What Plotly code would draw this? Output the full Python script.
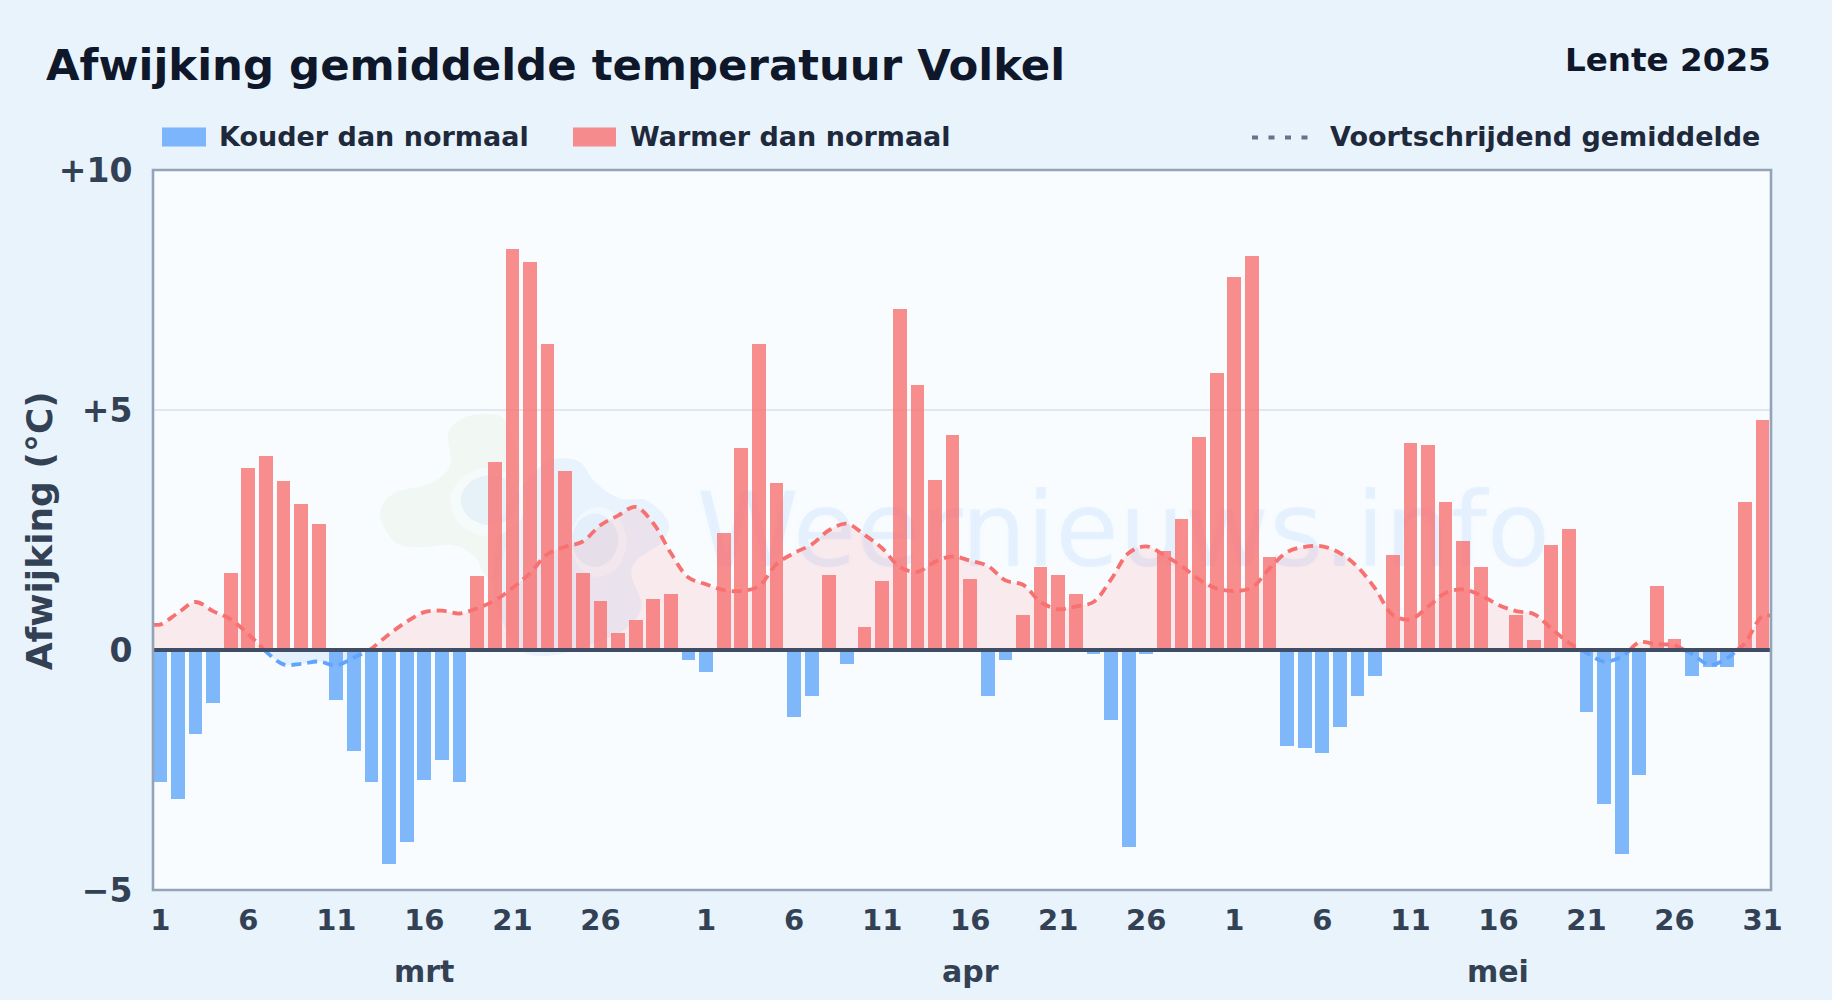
import plotly.graph_objects as go

# ---- data ----
march_dev = [-2.75,-3.1,-1.75,-1.1,1.6,3.8,4.05,3.52,3.05,2.62,-1.05,-2.1,-2.75,-4.45,-4.0,-2.7,-2.3,-2.75,1.55,3.92,8.35,8.08,6.38,3.72,1.6,1.02,0.35,0.62,1.07,1.17,-0.2]
april_dev = [-0.45,2.43,4.2,6.38,3.47,-1.4,-0.95,1.57,-0.3,0.47,1.43,7.1,5.53,3.54,4.48,1.47,-0.95,-0.2,0.72,1.72,1.57,1.17,-0.08,-1.45,-4.1,-0.08,2.07,2.73,4.43,5.78]
may_dev = [7.78,8.2,1.93,-2.0,-2.05,-2.15,-1.6,-0.95,-0.55,1.97,4.32,4.28,3.08,2.28,1.72,0.0,0.72,0.2,2.18,2.52,-1.3,-3.2,-4.25,-2.6,1.33,0.22,-0.55,-0.35,-0.35,3.08,4.8]
march_avg = [0.53,0.77,1.0,0.81,0.64,0.33,-0.03,-0.3,-0.29,-0.24,-0.32,-0.16,0.03,0.33,0.59,0.79,0.82,0.76,0.87,1.03,1.29,1.6,2.0,2.15,2.26,2.6,2.8,2.98,2.64,2.02,1.51]
april_avg = [1.37,1.25,1.23,1.33,1.79,2.02,2.2,2.5,2.63,2.4,2.12,1.73,1.63,1.84,1.95,1.86,1.75,1.45,1.36,1.0,0.85,0.91,1.0,1.47,2.02,2.16,1.98,1.75,1.47,1.28]
may_avg = [1.23,1.3,1.7,2.04,2.15,2.16,2.02,1.73,1.28,0.73,0.64,0.9,1.19,1.26,1.14,0.94,0.81,0.75,0.45,0.15,-0.06,-0.24,-0.14,0.16,0.12,0.1,-0.08,-0.31,-0.17,0.14,0.71]
months = ["mrt", "apr", "mei"]
y_tickvals = [10, 5, 0, -5]
y_ticktext = ["+10", "+5", "0", "\u22125"]

deviation = march_dev + april_dev + may_dev
average = march_avg + april_avg + may_avg
days = list(range(len(deviation)))
month_lens = [len(march_dev), len(april_dev), len(may_dev)]

tick_vals, tick_text, month_centres = [], [], []
start = 0
for n in month_lens:
    for d in range(1, n + 1, 5):
        if d == 31 and n == 31 and start == 0:
            continue
        tick_vals.append(start + d - 1)
        tick_text.append(str(d))
    month_centres.append(start + 15)
    start += n

W, H = 1832, 1000
L, R, T, B = 153.0, 1771.0, 169.5, 890.0
FONT = "DejaVu Sans"
C_DARK, C_TICK, C_LEG = "#0f172a", "#334155", "#1e293b"
RED, BLUE = "#f87171", "#60a5fa"
x_range = [-0.41, len(days) - 0.52]
y_range = [-5, 10]


def px(x):
    return x / W


def py(y):
    return 1 - y / H


def split(xs, vs):
    """Separate positive and negative stretches of the average, joined at zero."""
    px_, py_, nx_, ny_ = [], [], [], []
    for i, (x, v) in enumerate(zip(xs, vs)):
        if i:
            a = vs[i - 1]
            if a * v < 0:
                xc = xs[i - 1] + (0 - a) / (v - a)
                px_.append(xc); py_.append(0); nx_.append(xc); ny_.append(0)
                if v > 0:
                    nx_.append(None); ny_.append(None)
                else:
                    px_.append(None); py_.append(None)
        if v >= 0:
            px_.append(x); py_.append(v)
        else:
            nx_.append(x); ny_.append(v)
    return px_, py_, nx_, ny_


# the average is carried flat out to both edges of the frame
pos_x, pos_y, neg_x, neg_y = split([x_range[0]] + days + [x_range[1]],
                                   [average[0]] + average + [average[-1]])

fig = go.Figure()

# watermark and area sit on the base axes, beneath the bars
fig.add_trace(go.Scatter(
    x=[54.7], y=[2.28], mode="text", text=["Weernieuws.info"], textposition="middle center",
    textfont=dict(family=FONT, size=103.5, color="rgba(96,165,250,0.11)",
                  shadow="3px 0 4px rgba(96,165,250,0.09), -3px 0 4px rgba(96,165,250,0.09)"),
    hoverinfo="skip", showlegend=False))
fig.add_trace(go.Scatter(x=pos_x, y=pos_y, mode="none", fill="tozeroy", line=dict(shape="spline"),
                         fillcolor="rgba(248,113,113,0.13)", hoverinfo="skip", showlegend=False))
fig.add_trace(go.Scatter(x=neg_x, y=neg_y, mode="none", fill="tozeroy", line=dict(shape="spline"),
                         fillcolor="rgba(96,165,250,0.13)", hoverinfo="skip", showlegend=False))

# bars and line on an overlaid identical pair of axes
fig.add_trace(go.Bar(x=days, y=deviation, width=0.78, xaxis="x2", yaxis="y2",
                     marker=dict(color=["rgba(96,165,250,0.8)" if v < 0 else "rgba(248,113,113,0.8)" for v in deviation],
                                 line=dict(width=0)),
                     showlegend=False))
fig.add_trace(go.Scatter(x=pos_x, y=pos_y, mode="lines", xaxis="x2", yaxis="y2",
                         line=dict(color=RED, width=3.8, dash="10px,6px", shape="spline"), showlegend=False))
fig.add_trace(go.Scatter(x=neg_x, y=neg_y, mode="lines", xaxis="x2", yaxis="y2",
                         line=dict(color=BLUE, width=3.8, dash="10px,6px", shape="spline"), showlegend=False))


def blob(points):
    """Closed smooth path through pixel points, in paper coordinates."""
    n = len(points)
    d = f"M {px(points[0][0]):.5f},{py(points[0][1]):.5f}"
    for i in range(n):
        p0, p1, p2, p3 = points[i - 1], points[i], points[(i + 1) % n], points[(i + 2) % n]
        c1 = (p1[0] + (p2[0] - p0[0]) / 6, p1[1] + (p2[1] - p0[1]) / 6)
        c2 = (p2[0] - (p3[0] - p1[0]) / 6, p2[1] - (p3[1] - p1[1]) / 6)
        d += f" C {px(c1[0]):.5f},{py(c1[1]):.5f} {px(c2[0]):.5f},{py(c2[1]):.5f} {px(p2[0]):.5f},{py(p2[1]):.5f}"
    return d + " Z"


def zm(points):
    return [(360 + x / 3, 390 + y / 3) for x, y in points]


def ell(cx, cy, rx, ry):
    return zm([(cx - rx, cy), (cx - .7 * rx, cy - .7 * ry), (cx, cy - ry), (cx + .7 * rx, cy - .7 * ry),
               (cx + rx, cy), (cx + .7 * rx, cy + .7 * ry), (cx, cy + ry), (cx - .7 * rx, cy + .7 * ry)])


def below(path, color):
    return dict(type="path", path=path, xref="paper", yref="paper", layer="below",
                fillcolor=color, line=dict(width=0))


green_blob = zm([(60, 375), (100, 310), (210, 280), (270, 225), (265, 130), (310, 82), (390, 72), (440, 100),
                 (480, 250), (450, 420), (410, 560), (375, 555), (345, 500), (280, 465), (200, 470), (110, 460)])
blue_blob = zm([(590, 205), (660, 215), (705, 275), (780, 325), (860, 330), (925, 395), (905, 455), (830, 510),
                (815, 560), (845, 650), (790, 720), (700, 760), (600, 792), (500, 790), (440, 720), (400, 600),
                (420, 400), (480, 300), (540, 230)])

shapes = [
    below(blob(green_blob), "rgba(180,215,120,0.09)"),
    below(blob(blue_blob), "rgba(96,165,250,0.10)"),
    below(blob(ell(385, 335, 115, 102)), "rgba(248,252,255,0.65)"),
    below(blob(ell(390, 330, 88, 75)), "rgba(96,150,220,0.09)"),
    below(blob(ell(715, 455, 85, 105)), "rgba(248,252,255,0.55)"),
    below(blob(ell(705, 450, 70, 80)), "rgba(96,150,220,0.09)"),
    # zero line on top of bars
    dict(type="line", xref="paper", yref="y", x0=0, x1=1, y0=0, y1=0, layer="above",
         line=dict(color="#3f4e64", width=4)),
    # plot frame
    dict(type="rect", xref="paper", yref="paper", x0=0, x1=1, y0=0, y1=1, layer="above",
         line=dict(color="#94a3b8", width=2.6)),
    # legend keys
    dict(type="rect", xref="paper", yref="paper", x0=px(162), x1=px(206), y0=py(127), y1=py(146),
         fillcolor="rgba(96,165,250,0.8)", line=dict(width=0)),
    dict(type="rect", xref="paper", yref="paper", x0=px(573), x1=px(616), y0=py(127), y1=py(146),
         fillcolor="rgba(248,113,113,0.8)", line=dict(width=0)),
    dict(type="line", xref="paper", yref="paper", x0=px(1252), x1=px(1308), y0=py(137), y1=py(137),
         line=dict(color="#64748b", width=4, dash="6px,10.5px")),
]
# shapes above use page-level paper coords: re-map them from plot to page fractions
pw, ph = R - L, B - T


def to_plot_x(f):
    return (f * W - L) / pw


def to_plot_y(f):
    return ((1 - f) * H - B) / (-ph)


def remap_path(d):
    out = []
    for tok in d.split():
        if "," in tok:
            a, b = tok.split(",")
            out.append(f"{to_plot_x(float(a)):.5f},{to_plot_y(float(b)):.5f}")
        else:
            out.append(tok)
    return " ".join(out)


for s in shapes:
    if s["type"] == "path":
        s["path"] = remap_path(s["path"])
for s in shapes[-3:]:
    s["x0"], s["x1"] = to_plot_x(s["x0"]), to_plot_x(s["x1"])
    s["y0"], s["y1"] = to_plot_y(s["y0"]), to_plot_y(s["y1"])


def text(x, y, t, size, color, anchor="left", angle=0, weight=700):
    return dict(x=to_plot_x(px(x)), y=to_plot_y(py(y)), xref="paper", yref="paper", text=t, showarrow=False,
                xanchor=anchor, yanchor="middle", textangle=angle,
                font=dict(family=FONT, size=size, color=color, weight=weight))


annotations = [
    text(44, 64, "Afwijking gemiddelde temperatuur Volkel", 43.4, C_DARK),
    text(1773, 59, "Lente 2025", 32.6, C_DARK, anchor="right"),
    text(217, 136, "Kouder dan normaal", 27, C_LEG),
    text(628, 136, "Warmer dan normaal", 27, C_LEG),
    text(1328, 136, "Voortschrijdend gemiddelde", 27, C_LEG),
    text(39, 531, "Afwijking (\u00b0C)", 36, C_TICK, anchor="center", angle=-90),
]
for name, centre in zip(months, month_centres):
    annotations.append(dict(x=centre, y=to_plot_y(py(972)), xref="x", yref="paper", text=name, showarrow=False,
                            xanchor="center", yanchor="middle",
                            font=dict(family=FONT, size=30, color=C_TICK, weight=700)))

fig.update_layout(
    width=W, height=H, autosize=False, bargap=0, barmode="overlay",
    paper_bgcolor="#e9f3fc", plot_bgcolor="#f8fcff",
    margin=dict(l=L, r=W - R, t=T, b=H - B, pad=0),
    xaxis=dict(range=x_range, tickvals=tick_vals, ticktext=tick_text,
               tickfont=dict(family=FONT, size=29, color=C_TICK, weight=700),
               showgrid=False, zeroline=False, showline=False, ticks="outside", ticklen=4,
               tickcolor="rgba(0,0,0,0)", fixedrange=True),
    yaxis=dict(range=y_range, tickvals=y_tickvals, ticktext=y_ticktext,
               tickfont=dict(family=FONT, size=33, color=C_TICK, weight=700),
               showgrid=True, gridcolor="#e2e8f0", gridwidth=2, zeroline=False, showline=False,
               ticks="outside", ticklen=13, tickcolor="rgba(0,0,0,0)", fixedrange=True),
    xaxis2=dict(range=x_range, overlaying="x", visible=False, fixedrange=True),
    yaxis2=dict(range=y_range, overlaying="y", visible=False, fixedrange=True),
    shapes=shapes, annotations=annotations, hovermode=False,
)

fig.write_html("out.html", config={"displayModeBar": False},
               post_script="document.body.style.margin='0';document.body.style.overflow='hidden';")
